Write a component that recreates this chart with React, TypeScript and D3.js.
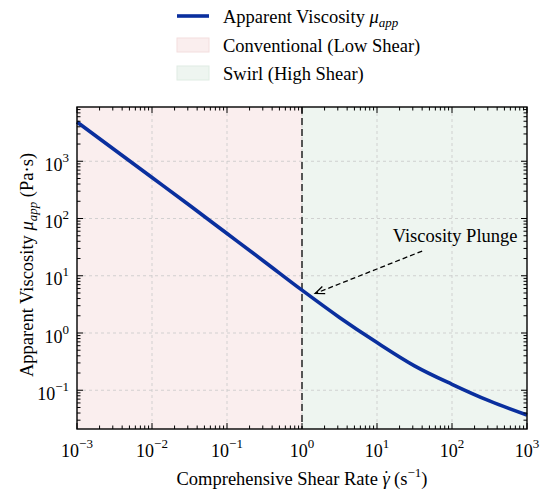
import * as d3 from "d3";
import { useEffect } from "react";

// shear rate (1/s) and apparent viscosity (Pa·s)
const shearRate = [0.001, 0.00316, 0.01, 0.0316, 0.1, 0.316, 1, 3.16, 10, 31.6, 100, 316, 1000];
const viscosity = [4850, 1590, 520, 170, 54.7, 17.6, 5.6, 1.87, 0.68, 0.267, 0.127, 0.065, 0.037];

const xTickExps = [-3, -2, -1, 0, 1, 2, 3];
const yTickExps = [-1, 0, 1, 2, 3];

const transitionRate = 1;
const arrowHead = [1.5, 4.9];
const arrowTail = [40, 27];
const noteAt = [16.2, 39];
const noteText = "Viscosity Plunge";

const legendItems = ["Apparent Viscosity", "Conventional (Low Shear)", "Swirl (High Shear)"];

const W = 550;
const H = 497;
const marginLeft = 77;
const marginRight = 23;
const marginTop = 107;
const marginBottom = 68;

const blue = "#0a2f9e";
const pink = "#faeeee";
const green = "#eef5f0";
const font = "'Liberation Serif', 'Times New Roman', serif";
const fs = 18.5;
const tickFs = 18;
const supFs = 13;

const x = d3.scaleLog().domain([1e-3, 1e3]).range([marginLeft, W - marginRight]);
const y = d3.scaleLog().domain([0.02104, 8870]).range([H - marginBottom, marginTop]);

const minorTicks = (lo: number, hi: number, dom: number[]) => {
    const out: number[] = [];
    for (let e = lo; e <= hi; e++)
        for (let m = 2; m <= 9; m++) {
            const v = m * Math.pow(10, e);
            if (v >= dom[0] && v <= dom[1]) out.push(v);
        }
    return out;
};

const App = () => {
    useEffect(() => {
        document.body.style.margin = "0";
    }, []);

    const [x0, x1] = x.range();
    const [y0, y1] = y.range(); // y0 bottom, y1 top
    const line = d3.line<number>()
        .x((_, i) => x(shearRate[i]))
        .y((d) => y(d))
        .curve(d3.curveMonotoneX);

    const xMinor = minorTicks(-3, 2, x.domain());
    const yMinor = minorTicks(-2, 3, y.domain());

    const hx = x(arrowHead[0]), hy = y(arrowHead[1]);
    const tx = x(arrowTail[0]), ty = y(arrowTail[1]);
    const ang = Math.atan2(ty - hy, tx - hx);
    const aLen = 10, aSpread = 0.4;
    const headPath = `M${hx + aLen * Math.cos(ang + aSpread)},${hy + aLen * Math.sin(ang + aSpread)}L${hx},${hy}L${hx + aLen * Math.cos(ang - aSpread)},${hy + aLen * Math.sin(ang - aSpread)}`;

    const sup = (e: number) => (e < 0 ? "\u2212" + -e : String(e));

    return (
        <svg width={W} height={H} style={{ display: "block", fontFamily: font }}>
            <rect width={W} height={H} fill="white" />
            {/* shaded regimes */}
            <rect x={x0} y={y1} width={x(transitionRate) - x0} height={y0 - y1} fill={pink} />
            <rect x={x(transitionRate)} y={y1} width={x1 - x(transitionRate)} height={y0 - y1} fill={green} />

            {/* grid */}
            <g stroke="#c8c8c8" strokeWidth={0.8} strokeDasharray="3,3">
                {xTickExps.slice(1, -1).map((e) => (
                    <line key={"gx" + e} x1={x(10 ** e)} x2={x(10 ** e)} y1={y1} y2={y0} />
                ))}
                {yTickExps.map((e) => (
                    <line key={"gy" + e} x1={x0} x2={x1} y1={y(10 ** e)} y2={y(10 ** e)} />
                ))}
            </g>

            {/* transition line */}
            <line x1={x(transitionRate)} x2={x(transitionRate)} y1={y1} y2={y0}
                stroke="#555" strokeWidth={2} strokeDasharray="7,4" />

            {/* curve */}
            <path d={line(viscosity) || ""} fill="none" stroke={blue} strokeWidth={3.6} />

            {/* annotation */}
            <line x1={tx} y1={ty} x2={hx} y2={hy} stroke="black" strokeWidth={1.3} strokeDasharray="5,3" />
            <path d={headPath} fill="none" stroke="black" strokeWidth={1.3} />
            <text x={x(noteAt[0])} y={y(noteAt[1])} fontSize={fs}>{noteText}</text>

            {/* ticks on all sides */}
            <g stroke="black" strokeWidth={1}>
                {xTickExps.map((e) => (
                    <g key={"xt" + e}>
                        <line x1={x(10 ** e)} x2={x(10 ** e)} y1={y0} y2={y0 - 6} />
                        <line x1={x(10 ** e)} x2={x(10 ** e)} y1={y1} y2={y1 + 6} />
                    </g>
                ))}
                {xMinor.map((v, i) => (
                    <g key={"xm" + i}>
                        <line x1={x(v)} x2={x(v)} y1={y0} y2={y0 - 3.5} />
                        <line x1={x(v)} x2={x(v)} y1={y1} y2={y1 + 3.5} />
                    </g>
                ))}
                {yTickExps.map((e) => (
                    <g key={"yt" + e}>
                        <line x1={x0} x2={x0 + 6} y1={y(10 ** e)} y2={y(10 ** e)} />
                        <line x1={x1} x2={x1 - 6} y1={y(10 ** e)} y2={y(10 ** e)} />
                    </g>
                ))}
                {yMinor.map((v, i) => (
                    <g key={"ym" + i}>
                        <line x1={x0} x2={x0 + 3.5} y1={y(v)} y2={y(v)} />
                        <line x1={x1} x2={x1 - 3.5} y1={y(v)} y2={y(v)} />
                    </g>
                ))}
            </g>
            <rect x={x0} y={y1} width={x1 - x0} height={y0 - y1} fill="none" stroke="black" strokeWidth={1.4} />

            {/* tick labels */}
            {xTickExps.map((e) => (
                <text key={"xl" + e} x={x(10 ** e)} y={457} fontSize={tickFs} textAnchor="middle">
                    10<tspan dy={-9} fontSize={supFs}>{sup(e)}</tspan>
                </text>
            ))}
            {yTickExps.map((e) => (
                <text key={"yl" + e} x={x0 - 8} y={y(10 ** e) + 9.5} fontSize={tickFs} textAnchor="end">
                    10<tspan dy={-9} fontSize={supFs}>{sup(e)}</tspan>
                </text>
            ))}

            {/* axis titles */}
            <text x={(x0 + x1) / 2} y={485} fontSize={fs} textAnchor="middle">
                <tspan>Comprehensive Shear Rate </tspan>
                <tspan fontStyle="italic">{"\u03B3"}</tspan>
                <tspan dx={-6.5} dy={-1}>{"\u02D9"}</tspan>
                <tspan dy={1}>{" (s"}</tspan>
                <tspan dy={-8} fontSize={supFs}>{"\u22121"}</tspan>
                <tspan dy={8}>)</tspan>
            </text>
            <text transform={`translate(33,${(y0 + y1) / 2 - 3}) rotate(-90)`} fontSize={fs} textAnchor="middle">
                <tspan>Apparent Viscosity </tspan>
                <tspan fontStyle="italic">{"\u03BC"}</tspan>
                <tspan fontStyle="italic" fontSize={supFs} dy={4}>app</tspan>
                <tspan dy={-4}>{" (Pa\u00B7s)"}</tspan>
            </text>

            {/* legend */}
            <g fontSize={fs}>
                <line x1={177} x2={209} y1={16} y2={16} stroke={blue} strokeWidth={3.6} />
                <text x={223} y={22.5}>
                    <tspan>{legendItems[0] + " "}</tspan>
                    <tspan fontStyle="italic">{"\u03BC"}</tspan>
                    <tspan fontStyle="italic" fontSize={supFs} dy={4}>app</tspan>
                </text>
                <rect x={177} y={38} width={32} height={14} fill={pink} stroke="#f3dede" />
                <text x={223} y={51.5}>{legendItems[1]}</text>
                <rect x={177} y={66} width={32} height={14} fill={green} stroke="#dfece3" />
                <text x={223} y={79.5}>{legendItems[2]}</text>
            </g>
        </svg>
    );
};

export default App;
